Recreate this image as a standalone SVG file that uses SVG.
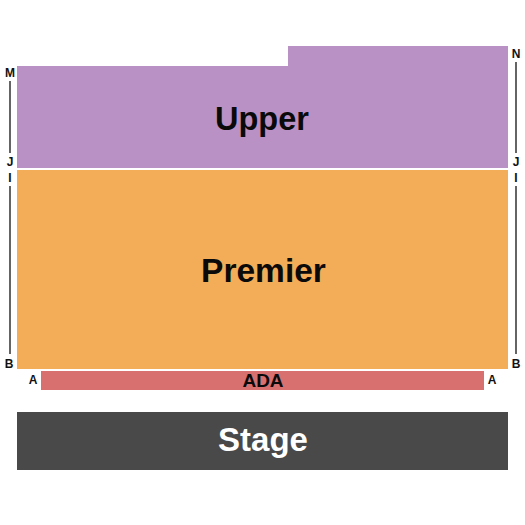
<svg xmlns="http://www.w3.org/2000/svg" width="525" height="525" viewBox="0 0 525 525">
<style>
.lbl{font-family:"Liberation Sans",Arial,sans-serif;font-weight:bold;font-size:12px;fill:#111;text-anchor:middle}
.big{font-family:"Liberation Sans",Arial,sans-serif;font-weight:bold;fill:#0a0a0a;text-anchor:middle}
.ln{stroke:#111;stroke-width:1.3}
</style>
<rect width="525" height="525" fill="#fff"/>
<g id="upper">
<path d="M17 66 H288 V46 H508 V168 H17 Z" fill="#BA91C4"/>
<text class="big" x="262" y="129.5" font-size="32.5">Upper</text>
</g>
<g id="premier">
<rect x="17" y="170" width="491" height="199" fill="#F3AC57"/>
<text class="big" x="263.5" y="281.5" font-size="33.5">Premier</text>
</g>
<g id="ada">
<rect x="41" y="371" width="443" height="19" fill="#D87070"/>
<text class="big" x="263" y="387" font-size="19">ADA</text>
</g>
<g id="stage">
<rect x="17" y="412" width="491" height="58" fill="#4A4949"/>
<text class="big" x="263" y="451" font-size="33" style="fill:#fff">Stage</text>
</g>
<g id="labels">
<text class="lbl" x="10" y="77">M</text>
<line class="ln" x1="10" y1="81" x2="10" y2="153"/>
<text class="lbl" x="10" y="166">J</text>
<text class="lbl" x="10" y="182">I</text>
<line class="ln" x1="10" y1="186" x2="10" y2="354"/>
<text class="lbl" x="9" y="368">B</text>
<text class="lbl" x="33" y="384">A</text>
<text class="lbl" x="516" y="58">N</text>
<line class="ln" x1="516" y1="62" x2="516" y2="153"/>
<text class="lbl" x="516" y="166">J</text>
<text class="lbl" x="516" y="182">I</text>
<line class="ln" x1="516" y1="186" x2="516" y2="354"/>
<text class="lbl" x="516" y="368">B</text>
<text class="lbl" x="492" y="384">A</text>
</g>
</svg>
